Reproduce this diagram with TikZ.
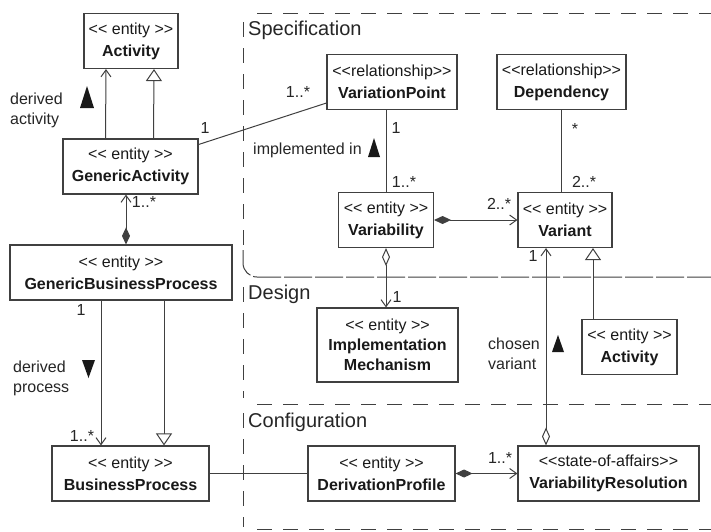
\documentclass[tikz,border=0pt]{standalone}
\usepackage{fontspec}
\newfontfamily\umlfont{Liberation Sans}
\usetikzlibrary{arrows.meta}
\definecolor{umlgray}{gray}{0.25}
\tikzset{
  ent/.style={draw=umlgray, line width=1.1pt, fill=white, align=center, inner sep=2pt,
    minimum height=55pt, text=black!90, font=\umlfont\fontsize{16}{22}\selectfont},
  mult/.style={inner sep=0pt, text=black!85, font=\umlfont\fontsize{16}{19}\selectfont},
  lab/.style={inner sep=0pt, align=left, anchor=west, text=black!85, font=\umlfont\fontsize{16}{20}\selectfont},
  pkgname/.style={inner sep=0pt, anchor=west, text=black!85, font=\umlfont\fontsize{20}{24}\selectfont},
  conn/.style={draw=umlgray, line width=1pt},
  nav/.style={conn, -{Straight Barb[length=7pt,width=10pt]}},
  gen/.style={conn, -{Triangle[open,length=12pt,width=16pt,fill=white]}},
  comp/.style={conn, {Diamond[length=17pt,width=8pt]}-{Straight Barb[length=7pt,width=10pt]}},
  aggr/.style={conn, {Diamond[open,length=18pt,width=8pt,fill=white]}-{Straight Barb[length=7pt,width=10pt]}},
  pkg/.style={draw=umlgray, line width=1pt, dash pattern=on 15pt off 11pt},
  pkgfine/.style={draw=umlgray, line width=1pt, dash pattern=on 28pt off 3pt},
}
\begin{document}
\begin{tikzpicture}[x=1pt,y=-1pt]
  \useasboundingbox[fill=white] (0,0) rectangle (711,531);
  % package frames
  \draw[pkg] (257,13) -- (711,13);
  \draw[pkg] (243,22) -- (243,250);
  \draw[pkgfine, rounded corners=14pt] (243,250) -- (243,277) -- (711,277);
  \draw[pkg] (243,287) -- (243,398);
  \draw[pkg] (257,404) -- (711,404);
  \draw[pkg] (243,413) -- (243,527);
  \draw[pkg] (257,529) -- (711,529);
  \node[pkgname] (spec) at (248,30) {Specification};
  \node[pkgname] (design) at (248,294) {Design};
  \node[pkgname] (config) at (248,422) {Configuration};

  % classes
  \node[ent, minimum width=94pt]  (act)  at (131,41)    {<< entity >>\\\textbf{Activity}};
  \node[ent, minimum width=135pt] (ga)   at (130.5,166.5) {<< entity >>\\\textbf{GenericActivity}};
  \node[ent, minimum width=222pt] (gbp)  at (121,272.5) {<< entity >>\\\textbf{GenericBusinessProcess}};
  \node[ent, minimum width=157pt] (bp)   at (130.5,473.5) {<< entity >>\\\textbf{BusinessProcess}};
  \node[ent, minimum width=130pt] (vp)   at (392,82)    {<<relationship>>\\\textbf{VariationPoint}};
  \node[ent, minimum width=129pt] (dep)  at (561.5,82)  {<<relationship>>\\\textbf{Dependency}};
  \node[ent, minimum width=95pt]  (vb)   at (386,220)   {<< entity >>\\\textbf{Variability}};
  \node[ent, minimum width=94pt]  (vt)   at (565,220)   {<< entity >>\\\textbf{Variant}};
  \node[ent, minimum width=141pt, minimum height=74pt, font=\umlfont\fontsize{16}{20}\selectfont]
                                  (im)   at (387.5,345) {<< entity >>\\\textbf{Implementation}\\\textbf{Mechanism}};
  \node[ent, minimum width=95pt]  (act2) at (629.5,347) {<< entity >>\\\textbf{Activity}};
  \node[ent, minimum width=147pt] (dp)   at (381.5,473.5) {<< entity >>\\\textbf{DerivationProfile}};
  \node[ent, minimum width=181pt] (vr)   at (608.5,473.5) {<<state-of-affairs>>\\\textbf{VariabilityResolution}};

  % connectors
  \draw[nav] ([xshift=-25pt]ga.north) -- ([xshift=-25pt]act.south);
  \draw[gen] ([xshift=23pt]ga.north) -- ([xshift=23pt]act.south);
  \draw[conn] ([yshift=22pt]ga.east) -- ([yshift=-21pt]vp.west);
  \draw[conn] (vb.north) -- (vb.north |- vp.south);
  \draw[conn] (dep.south) -- (dep.south |- vt.north);
  \draw[comp] (vb.east) -- (vt.west);
  \draw[aggr] (vb.south) -- (vb.south |- im.north);
  \coordinate (cv) at ([xshift=-19pt]vt.south);
  \draw[aggr] (cv |- vr.north) -- (cv);
  \coordinate (gv) at ([xshift=28pt]vt.south);
  \draw[gen] (gv |- act2.north) -- (gv);
  \coordinate (cg) at ([xshift=5pt]gbp.north);
  \draw[comp] (cg) -- (cg |- ga.south);
  \coordinate (dg) at ([xshift=-20pt]gbp.south);
  \draw[nav] (dg) -- (dg |- bp.north);
  \coordinate (sg) at ([xshift=43pt]gbp.south);
  \draw[gen] (sg) -- (sg |- bp.north);
  \draw[conn] (bp.east) -- (dp.west);
  \draw[comp] (dp.east) -- (vr.west);

  % multiplicities
  \node[mult] (m1)  at (205,128) {1};
  \node[mult] (m2)  at (298,92)  {1..*};
  \node[mult] (m3)  at (396,128) {1};
  \node[mult] (m4)  at (404,182) {1..*};
  \node[mult] (m5)  at (575,129) {*};
  \node[mult] (m6)  at (584,182) {2..*};
  \node[mult] (m7)  at (499,204) {2..*};
  \node[mult] (m8)  at (397,297) {1};
  \node[mult] (m9)  at (533,256) {1};
  \node[mult] (m10) at (144,202) {1..*};
  \node[mult] (m11) at (81,310)  {1};
  \node[mult] (m12) at (82,436)  {1..*};
  \node[mult] (m13) at (500,458) {1..*};

  % role labels
  \node[lab] (da) at (10,110)  {derived\\activity};
  \fill[black!90] (80,108) -- (94,108) -- (87,86) -- cycle;
  \node[lab] (ii) at (253,150) {implemented in};
  \fill[black!90] (368,157) -- (380,157) -- (374,138) -- cycle;
  \node[lab] (cvar) at (488,354) {chosen\\variant};
  \fill[black!90] (552,352) -- (564,352) -- (558,335) -- cycle;
  \node[lab] (dpr) at (13,378) {derived\\process};
  \fill[black!90] (82,360) -- (95,360) -- (88.5,378) -- cycle;
\end{tikzpicture}
\end{document}
